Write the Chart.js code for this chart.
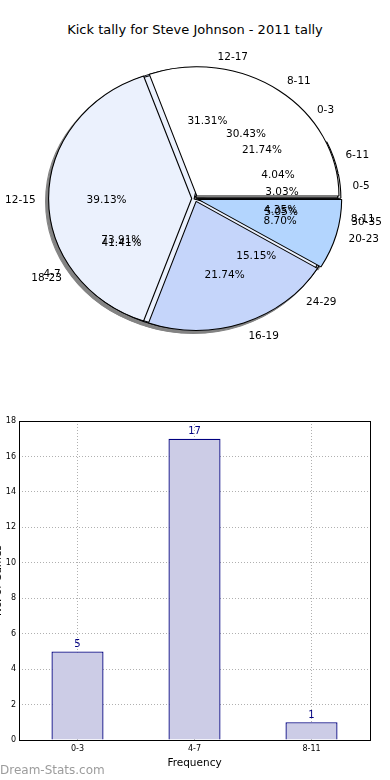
<!DOCTYPE html>
<html><head><meta charset="utf-8">
<script src="https://cdn.jsdelivr.net/npm/chart.js@4.4.1/dist/chart.umd.min.js"></script>
<style>
html,body{margin:0;padding:0;background:#fff;}
body{width:390px;height:780px;position:relative;overflow:hidden;font-family:'DejaVu Sans',sans-serif;}
#title{position:absolute;left:0;top:22px;width:390px;text-align:center;font-size:13px;line-height:16px;color:#000;white-space:nowrap;}
#pieWrap{position:absolute;left:0;top:0;width:390px;height:400px;filter:drop-shadow(-3px 3px 0 rgba(30,30,30,0.55));}
#pieWrap canvas{position:absolute;left:0;top:0;}
#labels{position:absolute;left:0;top:0;}
#bar{position:absolute;left:-8px;top:400px;}
#wm{position:absolute;left:0;top:763px;font-size:12px;line-height:14px;color:#9c9c9c;white-space:nowrap;}
</style></head><body>
<div id="title"></div>
<div id="pieWrap">
<canvas id="pieC" width="390" height="400"></canvas>
<canvas id="pieA" width="390" height="400"></canvas>
<canvas id="pieB" width="390" height="400"></canvas>
</div>
<canvas id="labels" width="390" height="400"></canvas>
<canvas id="bar" width="398" height="375"></canvas>
<div id="wm">Dream-Stats.com</div>
<script>
// ---- data ----
const chartTitle = 'Kick tally for Steve Johnson - 2011 tally';
const tallyLabels = ['0-3', '4-7', '8-11'];
const tallyValues = [5, 17, 1];
const rangeLabels = ['8-11', '12-15', '16-19', '20-23'];
const rangeValues = [7, 9, 5, 2];
const minuteLabels = ['0-5', '6-11', '12-17', '18-23', '24-29', '30-35'];
const minuteValues = [3, 4, 31, 41, 15, 5];
const barCategories = ['0-3', '4-7', '8-11'];
const barValues = [5, 17, 1];
const yAxisMin = 0, yAxisMax = 18, yAxisStep = 2;
const xAxisTitle = 'Frequency';
const yAxisTitle = 'No. of Games';

// ---- styles ----
const tallyColors = ['#FFFFFF', '#EBF1FD', '#C5D5FA'];
const rangeColors = ['#FFFFFF', '#EBF1FD', '#C5D5FA', '#B3D5FE'];
const minuteColors = ['#FFFFFF', '#EBF1FD', '#C5D5FA', '#B3D5FE', '#C0C0C0', '#A8C4E8'];
const CX = 195, CY = 198.5, R = 129, SX = 1.1, BW = 1, TEXT_DY = 1.5;
Chart.defaults.font.family = "'DejaVu Sans', sans-serif";
document.getElementById('title').textContent = chartTitle;

const ellipsePlugin = {
  id: 'ellipse',
  beforeDatasetsDraw(chart) {
    const el = chart.getDatasetMeta(0).data[0];
    const c = chart.ctx;
    c.save(); c.translate(el.x, el.y); c.scale(SX, 1); c.translate(-el.x, -el.y);
  },
  afterDatasetsDraw(chart) { chart.ctx.restore(); }
};

function makePie(id, labels, values, colors, offsetPx) {
  const off = offsetPx * 4; // Chart.js shifts an arc by offset/4
  const spacing = BW + off;
  const H = 2 * R + spacing;
  const rev = a => a.slice().reverse();
  return new Chart(document.getElementById(id), {
    type: 'pie',
    data: {
      labels: rev(labels),
      datasets: [{
        data: rev(values),
        backgroundColor: rev(colors), hoverBackgroundColor: rev(colors),
        borderColor: '#000', hoverBorderColor: '#000',
        borderWidth: BW, hoverBorderWidth: BW,
        offset: off, hoverOffset: off
      }]
    },
    options: {
      responsive: false, animation: false, events: [], rotation: 90,
      layout: { padding: { left: CX - H / 2, right: 390 - CX - H / 2, top: CY - H / 2, bottom: 400 - CY - H / 2 } },
      plugins: { legend: { display: false }, tooltip: { enabled: false } }
    },
    plugins: [ellipsePlugin]
  });
}

const pieC = makePie('pieC', minuteLabels, minuteValues, minuteColors, 2);
const pieA = makePie('pieA', tallyLabels, tallyValues, tallyColors, 1);
const pieB = makePie('pieB', rangeLabels, rangeValues, rangeColors, 3);

function drawPieLabels(charts) {
  const ctx = document.getElementById('labels').getContext('2d');
  ctx.font = "10.5px 'DejaVu Sans'";
  ctx.fillStyle = '#000';
  ctx.textBaseline = 'middle';
  charts.forEach(ch => {
    const meta = ch.getDatasetMeta(0);
    const labels = ch.data.labels;
    const vals = ch.data.datasets[0].data;
    const total = vals.reduce((a, b) => a + b, 0);
    meta.data.forEach((el, i) => {
      const mid = (el.startAngle + el.endAngle) / 2;
      const shift = (el.options.offset || 0) / 4;
      const r = el.outerRadius;
      const cs = Math.cos(mid), sn = Math.sin(mid);
      const lr = 1.1 * r + shift;
      ctx.textAlign = cs > 0 ? 'left' : 'right';
      ctx.fillText(labels[i], el.x + SX * lr * cs, el.y + lr * sn + TEXT_DY);
      const pr = 0.6 * r + shift;
      ctx.textAlign = 'center';
      ctx.fillText((vals[i] / total * 100).toFixed(2) + '%', el.x + SX * pr * cs, el.y + pr * sn + TEXT_DY);
    });
  });
}
drawPieLabels([pieC, pieA, pieB]);

// ---- bar chart ----
const frame = {
  id: 'frame',
  afterDraw(chart) {
    const { ctx, chartArea: a } = chart;
    ctx.save(); ctx.strokeStyle = '#000'; ctx.lineWidth = 1;
    ctx.strokeRect(Math.round(a.left) + 0.5, Math.round(a.top) + 0.5, Math.round(a.right - a.left), Math.round(a.bottom - a.top));
    ctx.restore();
  }
};
const barValueLabels = {
  id: 'vals',
  afterDatasetsDraw(chart) {
    const ctx = chart.ctx; const meta = chart.getDatasetMeta(0);
    ctx.save(); ctx.font = "10px 'DejaVu Sans'"; ctx.fillStyle = '#000080';
    ctx.textAlign = 'center'; ctx.textBaseline = 'alphabetic';
    meta.data.forEach((el, i) => ctx.fillText(String(chart.data.datasets[0].data[i]), el.x, el.y - 4.5));
    ctx.restore();
  }
};
new Chart(document.getElementById('bar'), {
  type: 'bar',
  data: { labels: barCategories, datasets: [{ data: barValues, backgroundColor: '#CCCCE6', borderColor: '#000080', borderWidth: 1.3, barPercentage: 0.445, categoryPercentage: 1 }] },
  options: {
    responsive: false, animation: false, events: [],
    layout: { padding: { top: 21, right: 20, left: 0, bottom: 0 } },
    plugins: { legend: { display: false }, tooltip: { enabled: false } },
    scales: {
      x: {
        grid: { offset: false, color: '#b0b0b0', drawTicks: false },
        border: { display: false, dash: [1, 2] },
        ticks: { padding: 4, font: { size: 8 }, color: '#000' },
        title: { display: true, text: xAxisTitle, font: { size: 10.5 }, color: '#000', padding: { top: 0, bottom: 5 } },
        afterFit(s) { s.height = 35; }
      },
      y: {
        min: yAxisMin, max: yAxisMax,
        ticks: { stepSize: yAxisStep, padding: 3, font: { size: 8 }, color: '#000' },
        grid: { color: '#b0b0b0', drawTicks: false },
        border: { display: false, dash: [1, 2] },
        title: { display: true, text: yAxisTitle, font: { size: 10.5 }, color: '#000', padding: 0 },
        afterFit(s) { s.width = 27; }
      }
    }
  },
  plugins: [barValueLabels, frame]
});
</script>
</body></html>
